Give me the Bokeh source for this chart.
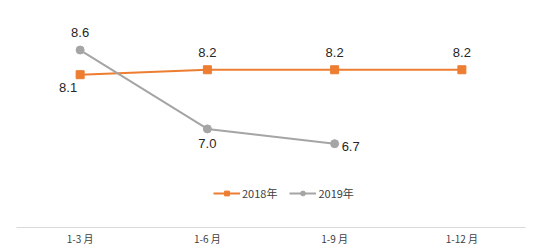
from bokeh.plotting import figure
from bokeh.models import ColumnDataSource, Range1d, FactorRange, Legend, LegendItem
from bokeh.core.properties import value
from bokeh.embed import file_html
from bokeh.resources import INLINE

categories = ["1-3 月", "1-6 月", "1-9 月", "1-12 月"]
s2018 = [8.1, 8.2, 8.2, 8.2]
s2019 = [8.6, 7.0, 6.7]
labels2018 = ["8.1", "8.2", "8.2", "8.2"]
labels2019 = ["8.6", "7.0", "6.7"]

orange = "#ED7D31"
gray = "#A5A5A5"

p = figure(width=543, height=250, output_backend="svg", toolbar_location=None,
           x_range=FactorRange(factors=categories, range_padding=0),
           y_range=Range1d(5.0, 9.605),
           min_border_left=16, min_border_right=18, min_border_top=0, min_border_bottom=23)
p.outline_line_color = None
p.background_fill_color = "white"
p.border_fill_color = "white"
p.xgrid.visible = False
p.ygrid.visible = False
p.yaxis.visible = False
p.xaxis.axis_line_color = "#D9D9D9"
p.xaxis.major_tick_line_color = None
p.xaxis.minor_tick_line_color = None
p.xaxis.major_tick_out = 0
p.xaxis.major_tick_in = 0
p.xaxis.minor_tick_out = 0
p.xaxis.major_label_text_font = "Noto Sans CJK SC"
p.xaxis.major_label_text_font_size = "10px"
p.xaxis.major_label_text_color = "#404040"
p.xaxis.major_label_standoff = 3

src18 = ColumnDataSource(dict(x=categories, y=s2018, t=labels2018))
src19 = ColumnDataSource(dict(x=categories[:3], y=s2019, t=labels2019))

l18 = p.line("x", "y", source=src18, line_color=orange, line_width=2)
m18 = p.scatter("x", "y", source=src18, marker="square", size=8, color=orange)
l19 = p.line("x", "y", source=src19, line_color=gray, line_width=2)
m19 = p.scatter("x", "y", source=src19, marker="circle", size=8, color=gray)

font = value("Liberation Sans")
src18a = ColumnDataSource(dict(x=categories[:1], y=s2018[:1], t=labels2018[:1]))
src18b = ColumnDataSource(dict(x=categories[1:], y=s2018[1:], t=labels2018[1:]))
p.text("x", "y", text="t", source=src18a, text_font=font, text_font_size="13px",
       text_color="#262626", text_align="center", text_baseline="middle",
       x_offset=-12, y_offset=13)
p.text("x", "y", text="t", source=src18b, text_font=font, text_font_size="13px",
       text_color="#262626", text_align="center", text_baseline="middle",
       y_offset=-17)
src19a = ColumnDataSource(dict(x=categories[:1], y=s2019[:1], t=labels2019[:1]))
src19b = ColumnDataSource(dict(x=categories[1:2], y=s2019[1:2], t=labels2019[1:2]))
src19c = ColumnDataSource(dict(x=categories[2:3], y=s2019[2:3], t=labels2019[2:3]))
p.text("x", "y", text="t", source=src19a, text_font=font, text_font_size="13px",
       text_color="#262626", text_align="center", text_baseline="middle",
       y_offset=-18)
p.text("x", "y", text="t", source=src19b, text_font=font, text_font_size="13px",
       text_color="#262626", text_align="center", text_baseline="middle",
       y_offset=15)
p.text("x", "y", text="t", source=src19c, text_font=font, text_font_size="13px",
       text_color="#262626", text_align="left", text_baseline="middle",
       x_offset=7, y_offset=3)

legend = Legend(items=[LegendItem(label="2018年", renderers=[l18, m18]),
                       LegendItem(label="2019年", renderers=[l19, m19])],
                orientation="horizontal", location=(197, 26),
                border_line_color=None, background_fill_alpha=0,
                label_text_font="Noto Sans CJK SC", label_text_font_size="11px",
                label_text_color="#404040", glyph_width=27, glyph_height=12,
                label_standoff=2, spacing=12, padding=0, margin=0)
p.add_layout(legend)

open("out.html", "w").write(file_html(p, INLINE))
